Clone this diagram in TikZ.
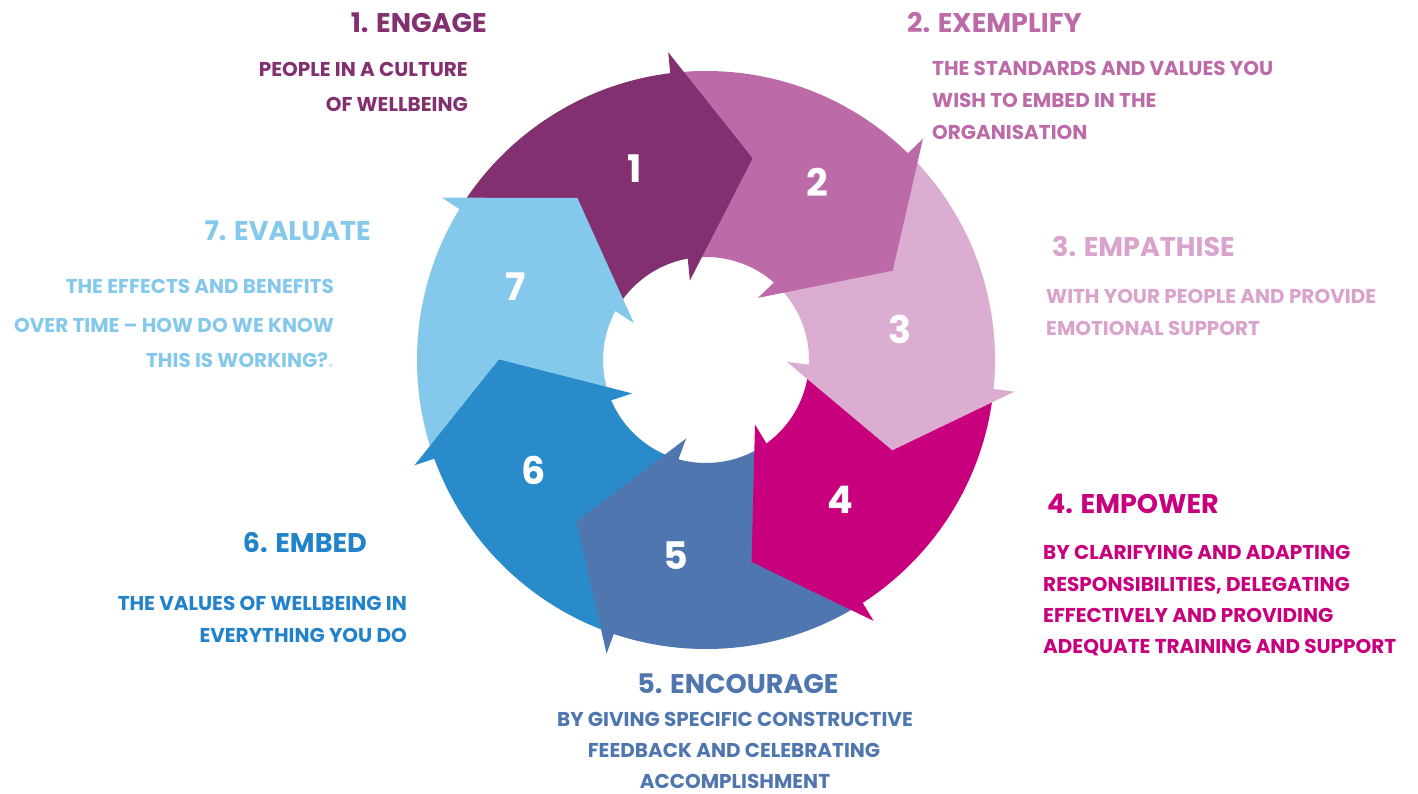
\documentclass[tikz,border=0pt]{standalone}
\usepackage{fontspec}
\setmainfont{Poppins}
\definecolor{cA}{HTML}{823070}
\definecolor{cB}{HTML}{BC6BA8}
\definecolor{cC}{HTML}{DBADD1}
\definecolor{cD}{HTML}{C8007E}
\definecolor{cE}{HTML}{4F76AE}
\definecolor{cF}{HTML}{2A8BCB}
\definecolor{cG}{HTML}{84C9EB}
\definecolor{tC}{HTML}{D9A3CE}
\definecolor{tF}{HTML}{2282CA}
\begin{document}
\begin{tikzpicture}[x=1pt,y=1pt,
  ttl/.style={font=\fontsize{27}{27}\selectfont\bfseries, inner sep=0pt},
  bdy/.style={font=\fontsize{20}{20}\selectfont\bfseries, inner sep=0pt},
  num/.style={font=\fontsize{38}{38}\selectfont\bfseries, text=white, inner sep=0pt}]
\useasboundingbox (0,0) rectangle (1418,-794);
\fill[white] (0,0) rectangle (1418,-794);
\begin{scope}[shift={(706,-360)}]
  % bodies: each joins the next one under the next head's triangle
  \foreach \k/\col in {1/cA,2/cB,3/cC,4/cD,5/cE,6/cF,7/cG} {
    \pgfmathsetmacro\p{77-51.4286*(\k-1)}
    \pgfmathsetmacro\q{\p+51.4286}
    \pgfmathsetmacro\m{\p+44.7143}
    \begin{scope}
      \clip ({\q+19}:310) -- ({\q+19}:600) -- (\m:700) -- ({\p+19}:600) -- ({\p+19}:310)
            -- ({\p+23}:81) -- (0,0) -- ({\q+23}:81) -- cycle;
      \fill[\col, even odd rule] (0,0) circle (289) (0,0) circle (103);
    \end{scope}
  }
  % heads
  \foreach \k/\col in {1/cA,2/cB,3/cC,4/cD,5/cE,6/cF,7/cG} {
    \pgfmathsetmacro\p{77-51.4286*(\k-1)}
    \fill[\col] ({\p+20}:310) -- (\p:207) -- ({\p+24.5}:81) -- cycle;
  }
\end{scope}
% numbers
\node[num] (n1) at (635,-169) {1};
\node[num] (n2) at (817,-182) {2};
\node[num] (n3) at (900,-329) {3};
\node[num] (n4) at (840,-500) {4};
\node[num] (n5) at (676,-556) {5};
\node[num] (n6) at (534,-470) {6};
\node[num] (n7) at (516,-287) {7};
% 1
\node[ttl, text=cA, anchor=base east] (t1) at (487,-33) {1. ENGAGE};
\node[bdy, text=cA, anchor=base east] (b1a) at (468,-77) {PEOPLE IN A CULTURE};
\node[bdy, text=cA, anchor=base east] (b1b) at (468,-112) {OF WELLBEING};
% 2
\node[ttl, text=cB, anchor=base west] (t2) at (907,-33) {2. EXEMPLIFY};
\node[bdy, text=cB, anchor=base west] (b2a) at (932,-76) {THE STANDARDS AND VALUES YOU};
\node[bdy, text=cB, anchor=base west] (b2b) at (932,-108) {WISH TO EMBED IN THE};
\node[bdy, text=cB, anchor=base west] (b2c) at (932,-140) {ORGANISATION};
% 3
\node[ttl, text=tC, anchor=base west] (t3) at (1052,-257) {3. EMPATHISE};
\node[bdy, text=tC, anchor=base west] (b3a) at (1046,-303) {WITH YOUR PEOPLE AND PROVIDE};
\node[bdy, text=tC, anchor=base west] (b3b) at (1046,-335) {EMOTIONAL SUPPORT};
% 4
\node[ttl, text=cD, anchor=base west] (t4) at (1047,-513) {4. EMPOWER};
\node[bdy, text=cD, anchor=base west] (b4a) at (1043,-559) {BY CLARIFYING AND ADAPTING};
\node[bdy, text=cD, anchor=base west] (b4b) at (1043,-591) {RESPONSIBILITIES, DELEGATING};
\node[bdy, text=cD, anchor=base west] (b4c) at (1043,-622) {EFFECTIVELY AND PROVIDING};
\node[bdy, text=cD, anchor=base west] (b4d) at (1043,-653) {ADEQUATE TRAINING AND SUPPORT};
% 5
\node[ttl, text=cE, anchor=base] (t5) at (738,-693) {5. ENCOURAGE};
\node[bdy, text=cE, anchor=base] (b5a) at (735,-726) {BY GIVING SPECIFIC CONSTRUCTIVE};
\node[bdy, text=cE, anchor=base] (b5b) at (734,-757) {FEEDBACK AND CELEBRATING};
\node[bdy, text=cE, anchor=base] (b5c) at (735,-788) {ACCOMPLISHMENT};
% 6
\node[ttl, text=tF, anchor=base east] (t6) at (367,-552) {6. EMBED};
\node[bdy, text=tF, anchor=base east] (b6a) at (407,-610) {THE VALUES OF WELLBEING IN};
\node[bdy, text=tF, anchor=base east] (b6b) at (407,-642) {EVERYTHING YOU DO};
% 7
\node[ttl, text=cG, anchor=base east] (t7) at (371,-241) {7. EVALUATE};
\node[bdy, text=cG, anchor=base east] (b7a) at (334,-294) {THE EFFECTS AND BENEFITS};
\node[bdy, text=cG, anchor=base east] (b7b) at (334,-332) {OVER TIME -- HOW DO WE KNOW};
\node[bdy, text=cG, anchor=base east] (b7c) at (334,-367) {THIS IS WORKING?\textcolor{cG!40}{.}};
\end{tikzpicture}
\end{document}
